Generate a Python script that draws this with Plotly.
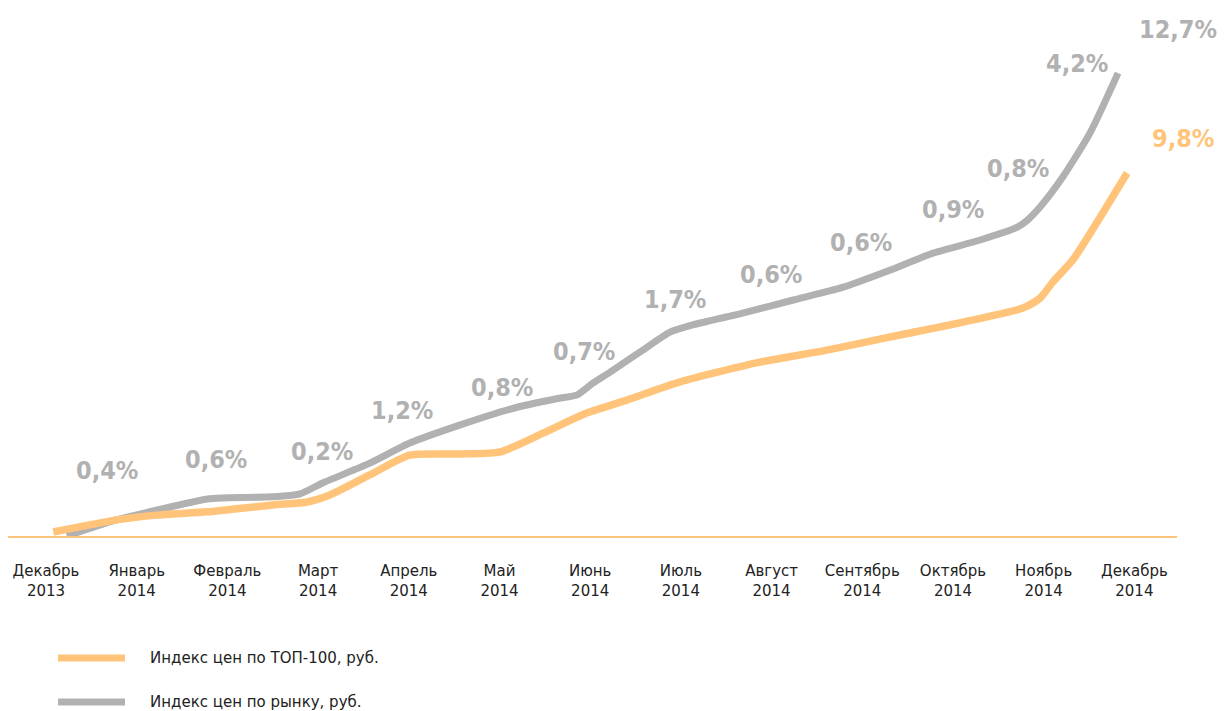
import plotly.graph_objects as go

# ---------------------------------------------------------------------------
# Data (month index: 0 = Dec 2013 ... 12 = Dec 2014; values = growth, %)
# ---------------------------------------------------------------------------

MONTHS = [
    "Декабрь<br>2013", "Январь<br>2014", "Февраль<br>2014", "Март<br>2014",
    "Апрель<br>2014", "Май<br>2014", "Июнь<br>2014", "Июль<br>2014",
    "Август<br>2014", "Сентябрь<br>2014", "Октябрь<br>2014", "Ноябрь<br>2014",
    "Декабрь<br>2014",
]

market_x = [0.23, 0.78, 1.78, 1.95, 2.50, 2.80, 3.05, 3.57, 4.01, 4.56, 5.12,
            5.67, 5.85, 6.03, 6.22, 6.58, 6.88, 7.13, 7.68, 8.24, 8.79, 9.31,
            9.78, 10.30, 10.71, 10.82, 10.96, 11.21, 11.51, 11.82]
market_y = [0.00, 0.44, 1.01, 1.04, 1.07, 1.15, 1.45, 1.99, 2.54, 3.03, 3.47,
            3.77, 3.85, 4.18, 4.48, 5.08, 5.57, 5.77, 6.09, 6.45, 6.80, 7.27,
            7.73, 8.09, 8.44, 8.63, 8.99, 9.81, 11.01, 12.65]

top100_x = [0.08, 0.78, 1.22, 1.78, 2.50, 2.88, 3.13, 3.57, 4.01, 4.56, 5.01,
            5.48, 5.96, 6.41, 6.99, 7.87, 8.61, 9.31, 10.77, 10.96, 11.10,
            11.32, 11.92]
top100_y = [0.11, 0.44, 0.57, 0.66, 0.85, 0.93, 1.12, 1.67, 2.21, 2.24, 2.30,
            2.81, 3.36, 3.72, 4.21, 4.75, 5.08, 5.44, 6.23, 6.50, 6.94,
            7.54, 9.92]

# monthly change of the market index, plus the two yearly totals
monthly_labels = ["0,4%", "0,6%", "0,2%", "1,2%", "0,8%", "0,7%", "1,7%",
                  "0,6%", "0,6%", "0,9%", "0,8%", "4,2%"]
market_total = "12,7%"
top100_total = "9,8%"

# ---------------------------------------------------------------------------
# Style
# ---------------------------------------------------------------------------

ORANGE = "#ffc47a"
GRAY = "#b1b1b1"
FONT = "DejaVu Sans"
LABEL_FONT = "DejaVu Sans Condensed"

# label placement (month index, %)
label_pos = [(0.67, 1.78), (1.87, 2.10), (3.04, 2.30), (3.93, 3.42),
             (5.03, 4.06), (5.93, 5.03), (6.93, 6.45), (7.99, 7.16),
             (8.99, 8.03), (10.00, 8.91), (10.72, 10.05), (11.37, 12.90)]
# totals sit right of the plot area -> paper x, data y
market_total_pos = (1.0009, 13.85)
top100_total_pos = (1.0051, 10.85)


def pct_font(color):
    return dict(family=LABEL_FONT, size=25, color=color, weight="bold")


fig = go.Figure()
fig.add_trace(go.Scatter(
    x=market_x, y=market_y, mode="lines", name="Индекс цен по рынку, руб.",
    line=dict(color=GRAY, width=7, shape="spline", smoothing=0.6),
))
fig.add_trace(go.Scatter(
    x=top100_x, y=top100_y, mode="lines", name="Индекс цен по ТОП-100, руб.",
    line=dict(color=ORANGE, width=7.5, shape="spline", smoothing=0.6),
))

for text, (lx, ly) in zip(monthly_labels, label_pos):
    fig.add_annotation(x=lx, y=ly, text=text, showarrow=False, font=pct_font(GRAY))
fig.add_annotation(xref="paper", x=market_total_pos[0], y=market_total_pos[1],
                   xanchor="center", yanchor="middle",
                   text=market_total, showarrow=False, font=pct_font(GRAY))
fig.add_annotation(xref="paper", x=top100_total_pos[0], y=top100_total_pos[1],
                   xanchor="center", yanchor="middle",
                   text=top100_total, showarrow=False, font=pct_font(ORANGE))

# hand-drawn legend below the axis
legend_items = [(ORANGE, "Индекс цен по ТОП-100, руб.", -0.2311),
                (GRAY, "Индекс цен по рынку, руб.", -0.3144)]
for color, text, py in legend_items:
    fig.add_shape(type="line", xref="paper", yref="paper",
                  x0=0.0428, x1=0.1001, y0=py, y1=py,
                  line=dict(color=color, width=7))
    fig.add_annotation(xref="paper", yref="paper", x=0.1198, y=py, text=text,
                       xanchor="left", yanchor="middle", showarrow=False,
                       font=dict(family=FONT, size=15, color="#222222"))

# page body keeps an 8px margin, so the figure is 8px smaller each way
fig.update_layout(
    width=1217,
    height=703,
    margin=dict(l=0, r=48, t=0, b=175),
    paper_bgcolor="white",
    plot_bgcolor="white",
    showlegend=False,
    font=dict(family=FONT),
    xaxis=dict(
        range=[-0.419, 12.470],
        tickvals=list(range(len(MONTHS))),
        ticktext=MONTHS,
        showgrid=False,
        zeroline=False,
        showline=True,
        linecolor=ORANGE,
        linewidth=2,
        ticks="",
        ticklabelstandoff=20,
        tickfont=dict(family=FONT, size=15, color="#222222"),
        fixedrange=True,
    ),
    yaxis=dict(
        range=[0, 14.43],
        visible=False,
        fixedrange=True,
    ),
)

fig.write_html("out.html")
